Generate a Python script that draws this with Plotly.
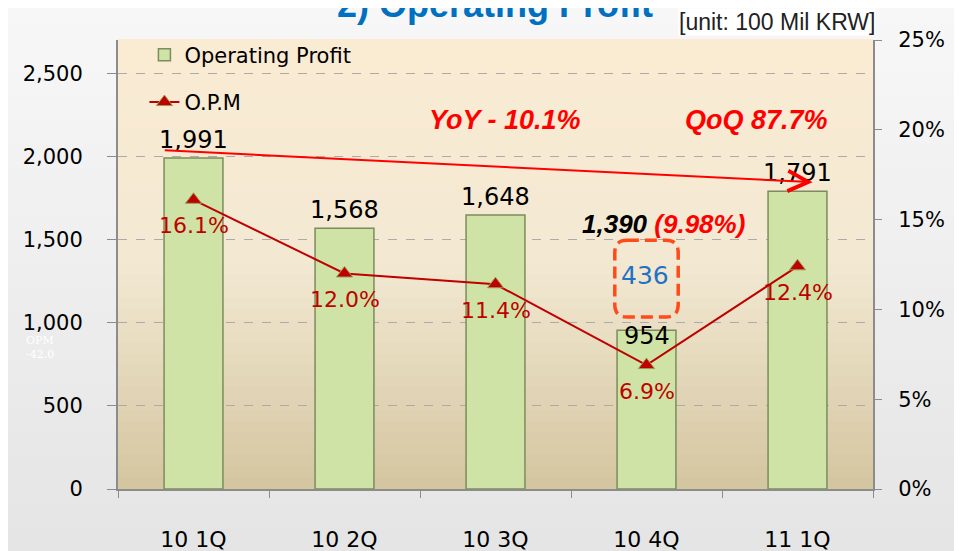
import plotly.graph_objects as go

# ---------------- data ----------------
quarters = ["10 1Q", "10 2Q", "10 3Q", "10 4Q", "11 1Q"]
op_profit = [1991, 1568, 1648, 954, 1791]
opm = [16.1, 12.0, 11.4, 6.9, 12.4]
left_ticks = [0, 500, 1000, 1500, 2000, 2500]
right_ticks = [0, 5, 10, 15, 20, 25]
yoy_pct = -10.1
qoq_pct = 87.7
prev_q4_profit = 1390
prev_q4_opm = 9.98
q4_gap = 436

xs = list(range(len(quarters)))

FONT = "DejaVu Sans"
RED = "#C00000"

fig = go.Figure()

# bars
fig.add_trace(go.Bar(
    x=xs, y=op_profit, name="Operating Profit", width=0.39,
    marker=dict(color="#D0E3A6", line=dict(color="#7C8C5C", width=1.5)),
    legendgroup="a", hoverinfo="x+y",
))
# O.P.M line
fig.add_trace(go.Scatter(
    x=xs, y=opm, name="O.P.M", yaxis="y2", mode="lines+markers",
    line=dict(color=RED, width=2),
    marker=dict(symbol="triangle-up", size=14, color=RED,
                line=dict(color="#9C9C50", width=1)),
    legendgroup="b",
))

ann = []
# bar labels
for i, v in enumerate(op_profit):
    small = v < 1000
    ann.append(dict(x=i, y=v, xref="x", yref="y", text=f"{v:,}",
                    showarrow=False, yanchor="middle",
                    yshift=(-6 if small else 18),
                    font=dict(family=FONT, size=24, color="#000000")))
# OPM labels
for i, v in enumerate(opm):
    ann.append(dict(x=i, y=v, xref="x", yref="y2", text=f"{v:.1f}%",
                    showarrow=False, yanchor="middle", yshift=-26,
                    font=dict(family=FONT, size=22, color=RED)))

# trend arrow
ann.append(dict(x=4.1, y=1845, ax=-0.2, ay=2037, xref="x", yref="y",
                axref="x", ayref="y", showarrow=True, arrowhead=5,
                arrowsize=2, arrowwidth=2, arrowcolor="#FF0000", text=""))
ann.append(dict(x=2.06, y=2218, xref="x", yref="y",
                text=f"<b><i>YoY - {abs(yoy_pct):.1f}%</i></b>", showarrow=False,
                font=dict(family="Liberation Sans", size=27, color="#FF0000")))
ann.append(dict(x=3.73, y=2218, xref="x", yref="y",
                text=f"<b><i>QoQ {qoq_pct:.1f}%</i></b>", showarrow=False,
                font=dict(family="Liberation Sans", size=27, color="#FF0000")))
ann.append(dict(x=3.11, y=1592, xref="x", yref="y",
                text=(f"<b><i>{prev_q4_profit:,}</i></b> "
                      f"<span style='color:#FF0000'><b><i>({prev_q4_opm:.2f}%)</i></b></span>"),
                showarrow=False,
                font=dict(family="Liberation Sans", size=26, color="#000000")))
ann.append(dict(x=2.99, y=1286, xref="x", yref="y", text=f"{q4_gap}",
                showarrow=False,
                font=dict(family=FONT, size=25, color="#1F72C4")))

# title & unit
ann.append(dict(x=0.287, y=1.078, xref="paper", yref="paper",
                text="<b>2) Operating Profit</b>", showarrow=False,
                yanchor="middle",
                font=dict(family="Liberation Sans", size=36, color="#0070C0")))
ann.append(dict(x=1.004, y=1.040, xref="paper", yref="paper", xanchor="right",
                text="[unit: 100 Mil KRW]", showarrow=False, yanchor="middle",
                bgcolor="#FFFFFF", borderpad=0,
                font=dict(family="Liberation Sans", size=23, color="#222222")))
# faint watermark
ann.append(dict(x=-0.125, y=0.28, xref="paper", yref="paper",
                text="OPM<br>-42.0", showarrow=False, align="left",
                font=dict(family="DejaVu Serif", size=11, color="#FFFFFF")))

shapes = []
# page background gradient
N = 30
ytop_p, ybot_p = 1.3, -0.3
for k in range(N):
    t = k / N
    c0 = (251, 251, 251)
    c1 = (226, 226, 226)
    c = tuple(int(c0[j] + (c1[j] - c0[j]) * t) for j in range(3))
    y_top = ytop_p - (ytop_p - ybot_p) * t
    y_bot = ytop_p - (ytop_p - ybot_p) * (k + 1) / N
    shapes.append(dict(type="rect", xref="paper", yref="paper",
                       x0=-0.3, x1=1.3, y0=y_bot, y1=y_top + 0.002,
                       fillcolor="rgb(%d,%d,%d)" % c, line=dict(width=0),
                       layer="below"))
# plot area gradient
M = 40
for k in range(M):
    t = (k + 0.5) / M
    top = (251, 236, 211)
    mid = (243, 233, 211)
    bot = (213, 198, 161)
    if t < 0.5:
        a, b, s = top, mid, t / 0.5
    else:
        a, b, s = mid, bot, (t - 0.5) / 0.5
    c = tuple(int(a[j] + (b[j] - a[j]) * s) for j in range(3))
    shapes.append(dict(type="rect", xref="paper", yref="paper",
                       x0=0, x1=1, y0=1 - (k + 1) / M, y1=1 - k / M + 0.002,
                       fillcolor="rgb(%d,%d,%d)" % c, line=dict(width=0),
                       layer="below"))
# rounded dashed box
x0, x1, y0, y1 = 2.79, 3.21, 1034, 1496
rx, ry = 0.08, 75
path = (f"M {x0+rx},{y1} L {x1-rx},{y1} Q {x1},{y1} {x1},{y1-ry} "
        f"L {x1},{y0+ry} Q {x1},{y0} {x1-rx},{y0} L {x0+rx},{y0} "
        f"Q {x0},{y0} {x0},{y0+ry} L {x0},{y1-ry} Q {x0},{y1} {x0+rx},{y1} Z")
shapes.append(dict(type="path", xref="x", yref="y", path=path,
                   line=dict(color="#FF4A1C", width=3.5, dash="12px,6px"),
                   layer="above"))

# the page body has an 8px margin, so the figure is sized to fit after it
fig.update_layout(
    width=954, height=543, autosize=False,
    margin=dict(l=110, r=89, t=32, b=62, autoexpand=False),
    paper_bgcolor="#F2F2F2", plot_bgcolor="rgba(0,0,0,0)",
    showlegend=True,
    legend=dict(x=0.035, y=1.012, xanchor="left", yanchor="top",
                bgcolor="rgba(0,0,0,0)", tracegroupgap=17,
                font=dict(family=FONT, size=21, color="#000000"),
                itemwidth=30),
    xaxis=dict(range=[-0.5, 4.5], tickmode="array", tickvals=xs,
               ticktext=quarters, ticks="", showgrid=False, zeroline=False,
               showline=True, linecolor="#8C8C8C", linewidth=1.5,
               ticklabelstandoff=30, automargin=False,
               tickfont=dict(family=FONT, size=22, color="#000000"),
               minor=dict(tickmode="linear", tick0=-0.5, dtick=1,
                          ticks="outside", ticklen=7, tickcolor="#8C8C8C",
                          showgrid=False)),
    yaxis=dict(range=[0, 2700], tickmode="array", tickvals=left_ticks,
               tickformat=",", ticks="outside", ticklen=9,
               tickcolor="#8C8C8C", showline=True, linecolor="#8C8C8C",
               linewidth=2, showgrid=True, gridcolor="#ABABAB",
               griddash="dash", gridwidth=1, zeroline=False,
               ticklabelstandoff=20, automargin=False,
               tickfont=dict(family=FONT, size=21, color="#000000")),
    yaxis2=dict(range=[0, 25], overlaying="y", side="right",
                tickmode="array", tickvals=right_ticks,
                ticktext=[f"{v}%" for v in right_ticks],
                ticks="outside", ticklen=7, tickcolor="#8C8C8C",
                showline=True, linecolor="#8C8C8C", linewidth=2,
                showgrid=False, zeroline=False, ticklabelstandoff=12,
                automargin=False,
                tickfont=dict(family=FONT, size=21, color="#000000")),
    annotations=ann, shapes=shapes,
    bargap=0.6,
)

fig.write_html("out.html")
